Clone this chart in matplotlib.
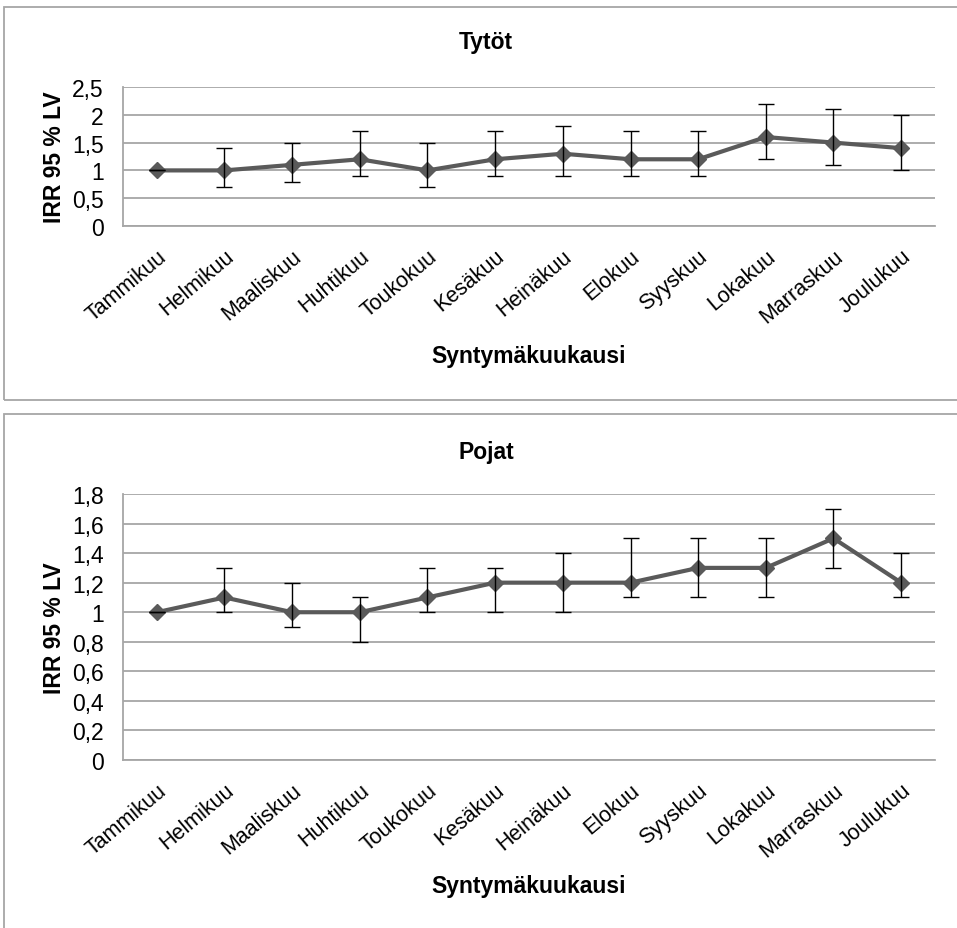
import matplotlib
matplotlib.use("Agg")
import matplotlib.pyplot as plt
from matplotlib.patches import Rectangle
from matplotlib.ticker import FuncFormatter, MultipleLocator

plt.rcParams['font.family'] = ['Liberation Sans', 'DejaVu Sans']

# Syntymäkuukaudet
kuukaudet = ["Tammikuu", "Helmikuu", "Maaliskuu", "Huhtikuu", "Toukokuu", "Kesäkuu",
             "Heinäkuu", "Elokuu", "Syyskuu", "Lokakuu", "Marraskuu", "Joulukuu"]

# Tytöt: IRR ja 95 % luottamusväli
tytot_irr = [1.0, 1.0, 1.1, 1.2, 1.0, 1.2, 1.3, 1.2, 1.2, 1.6, 1.5, 1.4]
tytot_ala = [1.0, 0.7, 0.8, 0.9, 0.7, 0.9, 0.9, 0.9, 0.9, 1.2, 1.1, 1.0]
tytot_yla = [1.0, 1.4, 1.5, 1.7, 1.5, 1.7, 1.8, 1.7, 1.7, 2.2, 2.1, 2.0]

# Pojat: IRR ja 95 % luottamusväli
pojat_irr = [1.0, 1.1, 1.0, 1.0, 1.1, 1.2, 1.2, 1.2, 1.3, 1.3, 1.5, 1.2]
pojat_ala = [1.0, 1.0, 0.9, 0.8, 1.0, 1.0, 1.0, 1.1, 1.1, 1.1, 1.3, 1.1]
pojat_yla = [1.0, 1.3, 1.2, 1.1, 1.3, 1.3, 1.4, 1.5, 1.5, 1.5, 1.7, 1.4]

W, H = 957, 929
fs = 16.5
fs_kk = 15.5
viiva = "#5a5a5a"
harmaa = "#a6a6a6"

fig = plt.figure(figsize=(W / 100, H / 100), dpi=100)

# kaavioiden kehykset
for y0, y1 in [(8, 401), (415, 940)]:
    fig.add_artist(Rectangle((4 / W, 1 - y1 / H), 1.2, (y1 - y0) / H,
                             transform=fig.transFigure, fill=False,
                             edgecolor=harmaa, linewidth=1.3))


def piirra(ax, irr, ala, yla, ymax, askel, otsikko, otsikko_y, xlabel_y):
    x = list(range(len(kuukaudet)))
    virhe = [[i - a for i, a in zip(irr, ala)], [y - i for i, y in zip(irr, yla)]]
    ax.plot(x, irr, color=viiva, linewidth=3, marker="D", markersize=8, zorder=3)
    ax.errorbar(x, irr, yerr=virhe, fmt="none", ecolor="black", elinewidth=1,
                capsize=6, capthick=1, zorder=4)
    ax.set_xlim(-0.5, len(kuukaudet) - 0.5)
    ax.set_ylim(0, ymax)
    ax.yaxis.set_major_locator(MultipleLocator(askel))
    ax.yaxis.set_major_formatter(FuncFormatter(lambda v, p: f"{v:g}".replace(".", ",")))
    ax.grid(axis="y", color=harmaa, linewidth=1.3)
    ax.set_axisbelow(True)
    for s in ["top", "right"]:
        ax.spines[s].set_visible(False)
    for s in ["left", "bottom"]:
        ax.spines[s].set_color(harmaa)
        ax.spines[s].set_linewidth(1.3)
    ax.set_xticks(x)
    ax.set_xticklabels(kuukaudet, rotation=40, ha="right", va="top",
                       rotation_mode="anchor", fontsize=fs_kk)
    ax.tick_params(axis="x", length=0, pad=14)
    ax.tick_params(axis="y", length=0, pad=14, labelsize=fs)
    ax.set_ylabel("IRR 95 % LV", fontsize=fs, fontweight="bold", labelpad=4)
    fig.text(486 / W, 1 - otsikko_y / H, otsikko, ha="center", va="center",
             fontsize=fs, fontweight="bold")
    fig.text(529 / W, 1 - xlabel_y / H, "Syntymäkuukausi", ha="center", va="center",
             fontsize=fs, fontweight="bold")


ax1 = fig.add_axes([123 / W, 1 - 227 / H, (935 - 123) / W, (227 - 88) / H])
piirra(ax1, tytot_irr, tytot_ala, tytot_yla, 2.5, 0.5, "Tytöt", 42, 357)

ax2 = fig.add_axes([123 / W, 1 - 761 / H, (935 - 123) / W, (761 - 495) / H])
piirra(ax2, pojat_irr, pojat_ala, pojat_yla, 1.8, 0.2, "Pojat", 452, 887)

fig.savefig("out.png", dpi=100, facecolor="white")
